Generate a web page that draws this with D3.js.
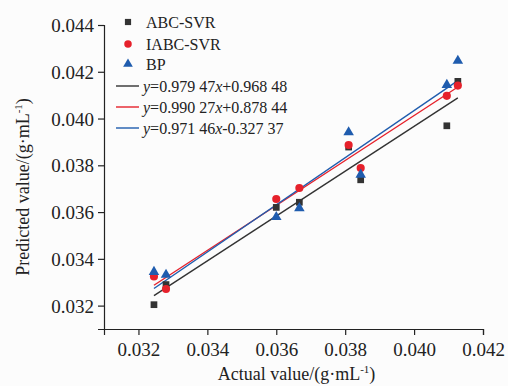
<!DOCTYPE html>
<html>
<head>
<meta charset="utf-8">
<script src="https://cdn.jsdelivr.net/npm/d3@7"></script>
<style>
    body { margin: 0; background: #fcfcfc; }
    svg { display: block; font-family: "Liberation Serif", "Times New Roman", serif; }
</style>
</head>
<body>
<div id="chart"></div>
<script>

// actual values (x) shared by all three models
let actual = [0.03245, 0.0328, 0.0360, 0.03667, 0.0381, 0.03845, 0.04095, 0.04127];

// predicted values
let abcSvr  = [0.03204, 0.0329, 0.0362, 0.03642, 0.03878, 0.03738, 0.03969, 0.04159];
let iabcSvr = [0.03325, 0.03271, 0.03656, 0.03703, 0.03887, 0.03788, 0.04097, 0.04141];
let bp      = [0.03344, 0.03332, 0.03579, 0.03617, 0.03941, 0.0376, 0.04144, 0.04247];

// fitted lines, read at both ends [x0, y0, x1, y1]
let fitAbc  = [0.03245, 0.03243, 0.04127, 0.04088];
let fitIabc = [0.03245, 0.03287, 0.04127, 0.04135];
let fitBp   = [0.03245, 0.03273, 0.04127, 0.04162];

let seriesNames = ["ABC-SVR", "IABC-SVR", "BP"];
let fitLabels = [
    ["0.979 47", "+0.968 48"],
    ["0.990 27", "+0.878 44"],
    ["0.971 46", "-0.327 37"]
];

let xTicks = [0.032, 0.034, 0.036, 0.038, 0.040, 0.042];
let yTicks = [0.032, 0.034, 0.036, 0.038, 0.040, 0.042, 0.044];

let colors = ["#333333", "#e6212b", "#1f5cae"];

let width = 508, height = 386;
let margin = {top: 25, right: 25, bottom: 57, left: 104};

let svg = d3.select("#chart").append("svg")
    .attr("width", width)
    .attr("height", height);

let x = d3.scaleLinear()
    .domain([0.031, 0.042])
    .range([margin.left, width - margin.right]);

let y = d3.scaleLinear()
    .domain([0.031, 0.044])
    .range([height - margin.bottom, margin.top]);

// axes
let xAxis = d3.axisBottom(x).tickValues(xTicks).tickFormat(d3.format(".3f")).tickSizeOuter(0).tickSize(6);
let yAxis = d3.axisLeft(y).tickValues(yTicks).tickFormat(d3.format(".3f")).tickSizeOuter(0).tickSize(6);

let gx = svg.append("g")
    .attr("transform", `translate(0, ${height - margin.bottom})`)
    .call(xAxis);

let gy = svg.append("g")
    .attr("transform", `translate(${margin.left}, 0)`)
    .call(yAxis);

[gx, gy].forEach(g => {
    g.selectAll("path, line").attr("stroke", "#222").attr("stroke-width", 1.2);
    g.selectAll("text")
        .attr("font-family", "Liberation Serif, serif")
        .attr("font-size", 19)
        .attr("fill", "#222");
});
gx.selectAll("text").attr("dy", "0.95em");
gy.selectAll("text").attr("x", -10).attr("dy", "0.35em");

// axis titles
let xTitle = svg.append("text")
    .attr("x", (margin.left + width - margin.right) / 2 + 3)
    .attr("y", 380)
    .attr("text-anchor", "middle")
    .attr("font-size", 18)
    .attr("fill", "#222");
xTitle.append("tspan").text("Actual value/(g·mL");
xTitle.append("tspan").text("-1").attr("font-size", 11).attr("dy", -7);
xTitle.append("tspan").text(")").attr("dy", 7);

let yTitle = svg.append("text")
    .attr("transform", `translate(29, ${(margin.top + height - margin.bottom) / 2 + 10}) rotate(-90)`)
    .attr("text-anchor", "middle")
    .attr("font-size", 18)
    .attr("fill", "#222");
yTitle.append("tspan").text("Predicted value/(g·mL");
yTitle.append("tspan").text("-1").attr("font-size", 11).attr("dy", -7);
yTitle.append("tspan").text(")").attr("dy", 7);

// fit lines
let fits = [fitAbc, fitIabc, fitBp];
svg.selectAll(".fit")
    .data(fits)
    .enter().append("line")
    .attr("class", "fit")
    .attr("x1", d => x(d[0]))
    .attr("y1", d => y(d[1]))
    .attr("x2", d => x(d[2]))
    .attr("y2", d => y(d[3]))
    .attr("stroke", (d, i) => colors[i])
    .attr("stroke-width", 1.4);

// markers
let symbols = [d3.symbolSquare, d3.symbolCircle, d3.symbolTriangle];
let sizes = [45, 52, 48];
let allSeries = [abcSvr, iabcSvr, bp];

allSeries.forEach((values, s) => {
    svg.append("g").selectAll("path")
        .data(values)
        .enter().append("path")
        .attr("d", d3.symbol().type(symbols[s]).size(sizes[s]))
        .attr("transform", (d, i) => `translate(${x(actual[i])}, ${y(d)})`)
        .attr("fill", colors[s]);
});

// legend
let legend = svg.append("g").attr("transform", "translate(116, 0)");
let rowY = [22, 44, 64, 86, 107, 128];

seriesNames.forEach((name, i) => {
    legend.append("path")
        .attr("d", d3.symbol().type(symbols[i]).size(sizes[i] * 0.85))
        .attr("transform", `translate(12, ${rowY[i]})`)
        .attr("fill", colors[i]);
    legend.append("text")
        .attr("x", 30)
        .attr("y", rowY[i])
        .attr("dy", "0.35em")
        .attr("font-size", 16)
        .attr("fill", "#222")
        .text(name);
});

fitLabels.forEach((lab, i) => {
    let ry = rowY[i + 3];
    legend.append("line")
        .attr("x1", 0).attr("x2", 23)
        .attr("y1", ry).attr("y2", ry)
        .attr("stroke", colors[i])
        .attr("stroke-width", 1.4);
    let t = legend.append("text")
        .attr("x", 27)
        .attr("y", ry)
        .attr("dy", "0.35em")
        .attr("font-size", 16)
        .attr("fill", "#222");
    t.append("tspan").text("y").attr("font-style", "italic");
    t.append("tspan").text("=" + lab[0]);
    t.append("tspan").text("x").attr("font-style", "italic");
    t.append("tspan").text(lab[1]);
});

</script>
</body>
</html>
